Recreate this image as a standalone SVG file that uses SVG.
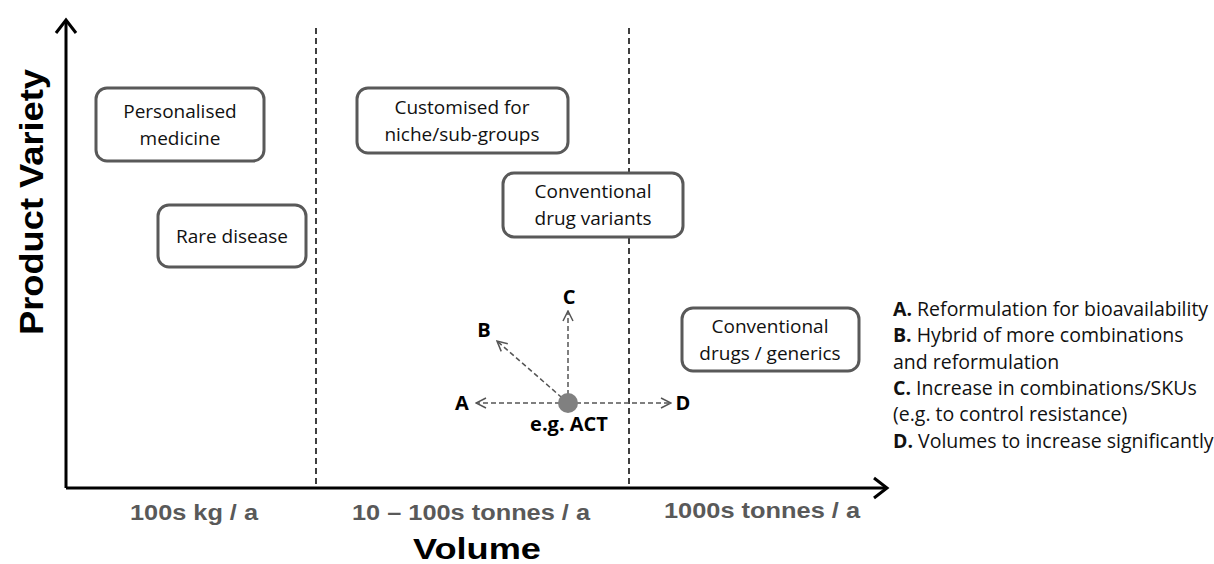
<svg xmlns="http://www.w3.org/2000/svg" width="1214" height="564" viewBox="0 0 1214 564">
<style>
.box{fill:#fff;stroke:#595959;stroke-width:3}
.nt{font-family:"Open Sans","Liberation Sans",sans-serif;font-size:19px;fill:#111;text-anchor:middle}
.lg{font-family:"Open Sans","Liberation Sans",sans-serif;font-size:19.5px;fill:#111}
.ax{stroke:#000;stroke-width:3;fill:none}
.dv{stroke:#000;stroke-width:1.5;stroke-dasharray:6,4;fill:none}
.da{stroke:#555;stroke-width:1.5;stroke-dasharray:5,3;fill:none}
.tk{font-family:"Liberation Sans",Arial,sans-serif;font-weight:bold;font-size:22px;fill:#595959;text-anchor:middle}
.bl{font-family:"Open Sans","Liberation Sans",sans-serif;font-weight:bold;font-size:20px;fill:#000;text-anchor:middle}
</style>
<defs>
<marker id="ah" viewBox="0 0 12 12" refX="11" refY="6" markerWidth="12" markerHeight="12" markerUnits="userSpaceOnUse" orient="auto">
<path d="M1,1 L11,6 L1,11" fill="none" stroke="#555" stroke-width="1.5"/>
</marker>
</defs>
<rect width="1214" height="564" fill="#fff"/>
<g id="axes">
<path class="ax" d="M66,488 V22"/>
<path class="ax" d="M56,33 L66,20 L76,33"/>
<path class="ax" d="M66,488 H885"/>
<path class="ax" d="M874,478 L887,488 L874,498"/>
<path class="dv" d="M316,28 V488"/>
<path class="dv" d="M629,28 V488"/>
</g>
<text x="43" y="202" transform="rotate(-90 43 202)" font-family="Liberation Sans,Arial,sans-serif" font-weight="bold" font-size="34" text-anchor="middle" textLength="266" lengthAdjust="spacingAndGlyphs">Product Variety</text>
<text x="477" y="559" font-family="Liberation Sans,Arial,sans-serif" font-weight="bold" font-size="30" text-anchor="middle" textLength="128" lengthAdjust="spacingAndGlyphs">Volume</text>
<text class="tk" x="194" y="520" textLength="128" lengthAdjust="spacingAndGlyphs">100s kg / a</text>
<text class="tk" x="471" y="520" textLength="238" lengthAdjust="spacingAndGlyphs">10 – 100s tonnes / a</text>
<text class="tk" x="762" y="518" textLength="196" lengthAdjust="spacingAndGlyphs">1000s tonnes / a</text>
<g id="personalised">
<rect class="box" x="96" y="88" width="168" height="73" rx="11"/>
<text class="nt" x="180" y="118">Personalised</text>
<text class="nt" x="180" y="145">medicine</text>
</g>
<g id="rare">
<rect class="box" x="158" y="205" width="148" height="62" rx="11"/>
<text class="nt" x="232" y="243">Rare disease</text>
</g>
<g id="customised">
<rect class="box" x="357" y="88" width="211" height="65" rx="11"/>
<text class="nt" x="462" y="114">Customised for</text>
<text class="nt" x="462" y="141">niche/sub-groups</text>
</g>
<g id="variants">
<rect class="box" x="503" y="173" width="180" height="64" rx="11"/>
<text class="nt" x="593" y="198">Conventional</text>
<text class="nt" x="593" y="225">drug variants</text>
</g>
<g id="generics">
<rect class="box" x="682" y="308" width="177" height="63" rx="11"/>
<text class="nt" x="770" y="333">Conventional</text>
<text class="nt" x="770" y="360">drugs / generics</text>
</g>
<g id="connectors">
<path class="da" d="M568,403 H476" marker-end="url(#ah)"/>
<path class="da" d="M568,403 H671" marker-end="url(#ah)"/>
<path class="da" d="M568,403 V311" marker-end="url(#ah)"/>
<path class="da" d="M568,403 L497,341" marker-end="url(#ah)"/>
</g>
<g id="act">
<circle cx="568" cy="403" r="10" fill="#808080"/>
<text class="bl" x="569" y="431">e.g. ACT</text>
</g>
<text class="bl" x="462" y="410">A</text>
<text class="bl" x="683" y="410">D</text>
<text class="bl" x="569" y="304">C</text>
<text class="bl" x="484" y="337">B</text>
<g id="legend" class="lg">
<text x="893" y="316"><tspan font-weight="bold">A.</tspan> Reformulation for bioavailability</text>
<text x="893" y="342"><tspan font-weight="bold">B.</tspan> Hybrid of more combinations</text>
<text x="893" y="369">and reformulation</text>
<text x="893" y="395"><tspan font-weight="bold">C.</tspan> Increase in combinations/SKUs</text>
<text x="893" y="421">(e.g. to control resistance)</text>
<text x="893" y="448"><tspan font-weight="bold">D.</tspan> Volumes to increase significantly</text>
</g>
</svg>
